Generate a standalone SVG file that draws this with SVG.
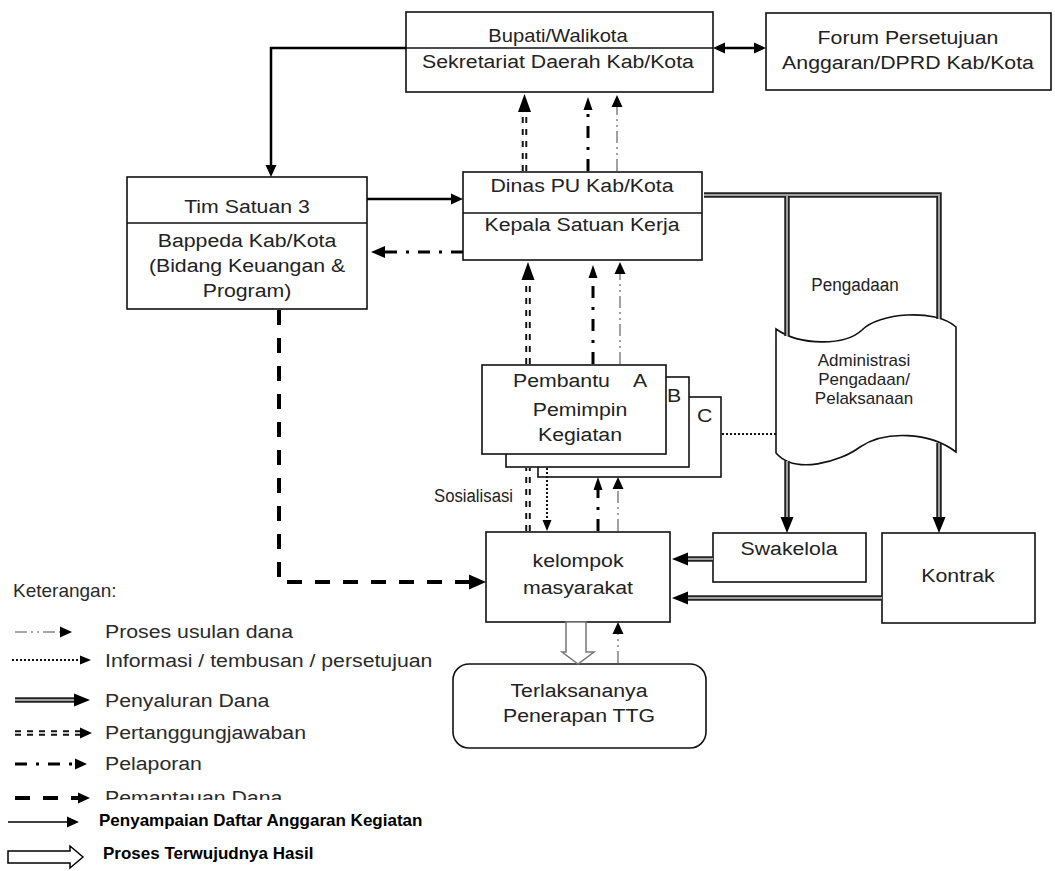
<svg xmlns="http://www.w3.org/2000/svg" width="1055" height="871" viewBox="0 0 1055 871">
<defs>
<style>
.box{fill:#fff;stroke:#111;stroke-width:1.6}
.dv{stroke:#111;stroke-width:1.6}
.t{font-family:"Liberation Sans",Arial,sans-serif;font-size:19px;fill:#222;text-anchor:middle}
.s{text-anchor:start}
.e{text-anchor:end}
.lg{font-family:"Liberation Sans",Arial,sans-serif;font-size:19px;fill:#2a2a2a}
.lb{font-family:"Liberation Sans",Arial,sans-serif;font-size:17px;font-weight:bold;fill:#000}
.solid{fill:none;stroke:#000;stroke-width:2.5}
.thin{fill:none;stroke:#000;stroke-width:1.5}
.lap{fill:none;stroke:#000;stroke-width:3;stroke-dasharray:12 9 3 9}
.usul{fill:none;stroke:#8a8a8a;stroke-width:1.6;stroke-dasharray:12 4 2 4 2 4}
.pj{fill:none;stroke:#111;stroke-width:5.5;stroke-dasharray:6 6}
.pjw{fill:none;stroke:#fff;stroke-width:1.6}
.dot{fill:none;stroke:#111;stroke-width:2;stroke-dasharray:2 2}
.dash{fill:none;stroke:#000;stroke-width:4;stroke-dasharray:15 13}
.dana{fill:none;stroke:#222;stroke-width:5.5}
.danaw{fill:none;stroke:#a0a0a0;stroke-width:2}
.hollow{fill:#fff;stroke:#777;stroke-width:1.5}
</style>
<marker id="ah" markerUnits="userSpaceOnUse" viewBox="0 -8 20 16" markerWidth="20" markerHeight="16" refX="0" refY="0" orient="auto"><path d="M0,-6L14,0L0,6z" fill="#000"/></marker>
<marker id="ahM" markerUnits="userSpaceOnUse" viewBox="0 -8 20 16" markerWidth="20" markerHeight="16" refX="0" refY="0" orient="auto-start-reverse"><path d="M0,-5.5L12,0L0,5.5z" fill="#000"/></marker>
<marker id="ahS" markerUnits="userSpaceOnUse" viewBox="0 -8 20 16" markerWidth="20" markerHeight="16" refX="0" refY="0" orient="auto"><path d="M0,-4.5L11,0L0,4.5z" fill="#000"/></marker>
<marker id="ahN" markerUnits="userSpaceOnUse" viewBox="0 -8 20 16" markerWidth="20" markerHeight="16" refX="0" refY="0" orient="auto"><path d="M0,-4.5L13,0L0,4.5z" fill="#000"/></marker>
<marker id="ahL" markerUnits="userSpaceOnUse" viewBox="0 -9 20 18" markerWidth="20" markerHeight="18" refX="0" refY="0" orient="auto"><path d="M0,-7.5L17,0L0,7.5z" fill="#000"/></marker>
<marker id="ahD" markerUnits="userSpaceOnUse" viewBox="0 -8 20 16" markerWidth="20" markerHeight="16" refX="0" refY="0" orient="auto"><path d="M0,-6.5L18,0L0,6.5z" fill="#000"/></marker>
<marker id="ahP" markerUnits="userSpaceOnUse" viewBox="0 -8 20 16" markerWidth="20" markerHeight="16" refX="0" refY="0" orient="auto"><path d="M0,-6.5L16,0L0,6.5z" fill="#000"/></marker>
<clipPath id="clipPem"><rect x="0" y="780" width="450" height="20"/></clipPath>
</defs>
<rect width="1055" height="871" fill="#fff"/>

<g id="bupati">
<rect class="box" x="406" y="12" width="307" height="80"/>
<line class="dv" x1="406" y1="48" x2="713" y2="48"/>
<text class="t" style="font-size:18px" transform="translate(558,42) scale(1.12,1)">Bupati/Walikota</text>
<text class="t" transform="translate(558,68) scale(1.12,1)">Sekretariat Daerah Kab/Kota</text>
</g>

<g id="forum">
<rect class="box" x="766" y="13" width="285" height="77"/>
<text class="t" transform="translate(908,44) scale(1.12,1)">Forum Persetujuan</text>
<text class="t" transform="translate(908,69) scale(1.12,1)">Anggaran/DPRD Kab/Kota</text>
</g>

<g id="tim">
<rect class="box" x="127" y="177" width="240" height="132"/>
<line class="dv" x1="127" y1="223" x2="367" y2="223"/>
<text class="t" transform="translate(247,213) scale(1.12,1)">Tim Satuan 3</text>
<text class="t" transform="translate(247,247) scale(1.12,1)">Bappeda Kab/Kota</text>
<text class="t" transform="translate(247,272) scale(1.12,1)">(Bidang Keuangan &amp;</text>
<text class="t" transform="translate(247,297) scale(1.12,1)">Program)</text>
</g>

<g id="dinas">
<rect class="box" x="463" y="172" width="239" height="88"/>
<line class="dv" x1="463" y1="213" x2="702" y2="213"/>
<text class="t" transform="translate(582,192) scale(1.12,1)">Dinas PU Kab/Kota</text>
<text class="t" transform="translate(582,231) scale(1.12,1)">Kepala Satuan Kerja</text>
</g>

<g id="pembantu">
<rect class="box" x="538" y="397" width="183" height="80"/>
<text class="t s" transform="translate(697,422) scale(1.12,1)">C</text>
<rect class="box" x="506" y="377" width="183" height="90"/>
<text class="t s" transform="translate(667,402) scale(1.12,1)">B</text>
<rect class="box" x="482" y="365" width="184" height="89"/>
<text class="t s" transform="translate(513,387) scale(1.12,1)">Pembantu</text>
<text class="t s" transform="translate(633,387) scale(1.12,1)">A</text>
<text class="t" transform="translate(580,416) scale(1.12,1)">Pemimpin</text>
<text class="t" transform="translate(580,441) scale(1.12,1)">Kegiatan</text>
</g>

<g id="admin">
<path class="box" d="M776,329 C800,346 845,346 862,330 C878,313 935,308 956,327 L956,452 C930,432 885,430 860,447 C840,462 795,475 776,453 Z"/>
<text class="t" style="font-size:17px" transform="translate(864,366) scale(1.0,1)">Administrasi</text>
<text class="t" style="font-size:17px" transform="translate(864,385) scale(1.0,1)">Pengadaan/</text>
<text class="t" style="font-size:17px" transform="translate(864,404) scale(1.0,1)">Pelaksanaan</text>
</g>

<g id="kelompok">
<rect class="box" x="486" y="532" width="184" height="90"/>
<text class="t" transform="translate(578,567) scale(1.12,1)">kelompok</text>
<text class="t" transform="translate(578,594) scale(1.12,1)">masyarakat</text>
</g>

<g id="swakelola">
<rect class="box" x="713" y="533" width="153" height="49"/>
<text class="t" transform="translate(789,555) scale(1.12,1)">Swakelola</text>
</g>

<g id="kontrak">
<rect class="box" x="882" y="533" width="153" height="90"/>
<text class="t" transform="translate(958,582) scale(1.12,1)">Kontrak</text>
</g>

<g id="hasil">
<rect class="box" x="453" y="664" width="253" height="84" rx="16" ry="16"/>
<text class="t" transform="translate(579,697) scale(1.12,1)">Terlaksananya</text>
<text class="t" transform="translate(579,722) scale(1.12,1)">Penerapan TTG</text>
</g>

<g id="connectors">
<path class="solid" d="M406,48 H271 V165" marker-end="url(#ahM)"/>
<path class="solid" d="M367,199 H451" marker-end="url(#ahM)"/>
<path class="solid" d="M725,48 H754" marker-start="url(#ahM)" marker-end="url(#ahM)"/>
<path class="lap" d="M463,252 H385" marker-end="url(#ah)"/>
<path class="lap" d="M588,171 V110" marker-end="url(#ahN)"/>
<path class="lap" d="M593,364 V278" marker-end="url(#ahN)"/>
<path class="lap" d="M598,531 V490" marker-end="url(#ahN)"/>
<path class="usul" d="M617,171 V107" marker-end="url(#ahM)"/>
<path class="usul" d="M620,364 V274" marker-end="url(#ahM)"/>
<path class="usul" d="M618,531 V489" marker-end="url(#ahM)"/>
<path class="usul" d="M618,663 V634" marker-end="url(#ahM)"/>
<path class="pj" d="M524.5,171 V112" marker-end="url(#ahD)"/>
<path class="pjw" d="M524.5,171 V112"/>
<path class="pj" d="M528,364 V280" marker-end="url(#ahD)"/>
<path class="pjw" d="M528,364 V280"/>
<path class="pj" d="M528,531 V468"/>
<path class="pjw" d="M528,531 V468"/>
<path class="dot" d="M547,468 V520" marker-end="url(#ahS)"/>
<path class="dot" d="M722,434 H776"/>
<path class="dash" d="M279,310 V582 H469" marker-end="url(#ahL)"/>
<path class="dana" d="M704,195 H939 V319"/>
<path class="dana" d="M787,195 V336"/>
<path class="dana" d="M787,461 V517" marker-end="url(#ahP)"/>
<path class="dana" d="M939,443 V517" marker-end="url(#ahP)"/>
<path class="dana" d="M713,559 H688" marker-end="url(#ahP)"/>
<path class="dana" d="M882,598 H688" marker-end="url(#ahP)"/>
<path class="danaw" d="M704,195 H939 V319"/>
<path class="danaw" d="M787,195 V336"/>
<path class="danaw" d="M787,461 V517"/>
<path class="danaw" d="M939,443 V517"/>
<path class="danaw" d="M713,559 H688"/>
<path class="danaw" d="M882,598 H688"/>
<polygon class="hollow" points="566,622 586,622 586,652 594,652 578,664 562,652 566,652"/>
<text class="t" transform="translate(855,291) scale(0.9,1)">Pengadaan</text>
<text class="t e" transform="translate(513,502) scale(0.88,1)">Sosialisasi</text>
</g>

<g id="legend">
<text class="lg" x="13" y="597">Keterangan:</text>
<path class="usul" d="M15,632 H60" marker-end="url(#ahM)"/>
<text class="lg" transform="translate(105,638) scale(1.12,1)">Proses usulan dana</text>
<path class="dot" d="M12,660 H80" marker-end="url(#ahS)"/>
<text class="lg" transform="translate(105,667) scale(1.12,1)">Informasi / tembusan / persetujuan</text>
<path class="dana" d="M15,700 H74" marker-end="url(#ahP)"/>
<path class="danaw" d="M15,700 H74"/>
<text class="lg" transform="translate(105,707) scale(1.12,1)">Penyaluran Dana</text>
<path class="pj" d="M15,733 H80" marker-end="url(#ahM)"/>
<path class="pjw" d="M15,733 H80"/>
<text class="lg" transform="translate(105,739) scale(1.12,1)">Pertanggungjawaban</text>
<path class="lap" d="M15,764 H75" marker-end="url(#ahM)"/>
<text class="lg" transform="translate(105,770) scale(1.12,1)">Pelaporan</text>
<path class="dash" d="M15,798 H78" marker-end="url(#ahM)"/>
<g clip-path="url(#clipPem)"><text class="lg" transform="translate(105,804) scale(1.12,1)">Pemantauan Dana</text></g>
<path class="thin" d="M8,822 H67" marker-end="url(#ahM)"/>
<text class="lb" x="99" y="826">Penyampaian Daftar Anggaran Kegiatan</text>
<polygon class="hollow" style="stroke:#000" points="8,851 70,851 70,846 83,857 70,868 70,863 8,863"/>
<text class="lb" x="103" y="859">Proses Terwujudnya Hasil</text>
</g>
</svg>
